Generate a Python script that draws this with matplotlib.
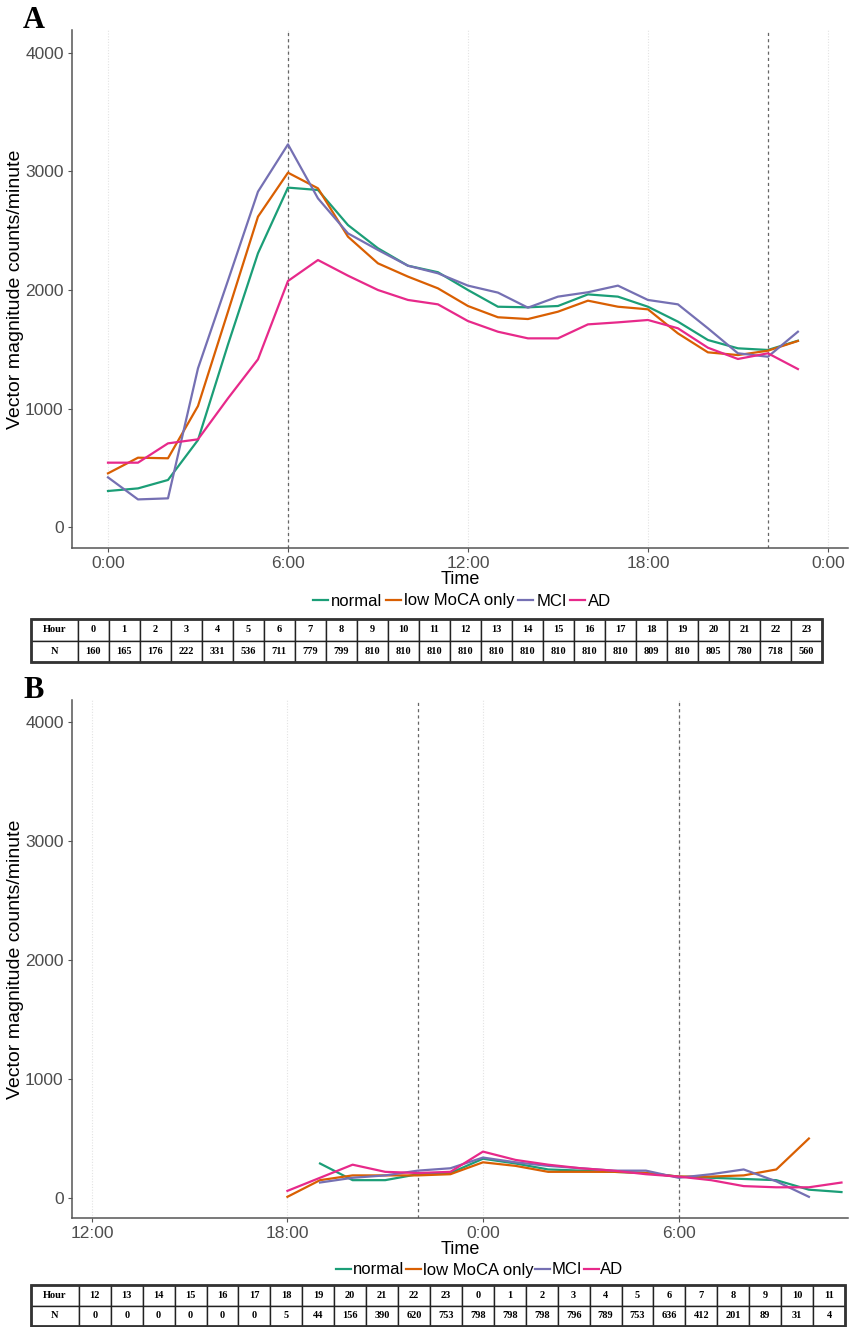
import matplotlib.pyplot as plt
import numpy as np

nan = np.nan

# ---- panel A: hours 0..23 ----
hours_a = list(range(24))
normal_a = [304, 326, 397, 734, 1540, 2310, 2864, 2844, 2548, 2352, 2205, 2150,
            2000, 1859, 1854, 1865, 1963, 1944, 1859, 1733, 1578, 1508, 1494, 1572]
lowmoca_a = [453, 585, 580, 1021, 1817, 2619, 2990, 2858, 2450, 2225, 2113, 2014,
             1865, 1770, 1755, 1817, 1910, 1859, 1837, 1634, 1474, 1451, 1488, 1570]
mci_a = [419, 233, 242, 1339, 2080, 2830, 3229, 2773, 2478, 2338, 2205, 2141,
         2037, 1978, 1851, 1944, 1981, 2037, 1916, 1879, 1677, 1466, 1437, 1648]
ad_a = [543, 543, 706, 740, 1086, 1415, 2076, 2253, 2121, 2000, 1916, 1879,
        1738, 1648, 1592, 1592, 1710, 1727, 1747, 1677, 1513, 1418, 1466, 1333]

# ---- panel B: hours 12..35 (12:00 to 11:00 next day) ----
hours_b = list(range(12, 36))
normal_b = [nan] * 7 + [290, 150, 150, 200, 210, 330, 290, 240, 230, 220, 210,
                        180, 170, 160, 150, 70, 50]
lowmoca_b = [nan] * 6 + [10, 150, 190, 190, 190, 200, 300, 270, 220, 220, 220,
                         210, 180, 180, 190, 240, 500, nan]
mci_b = [nan] * 7 + [130, 170, 190, 230, 250, 340, 300, 270, 250, 230, 230,
                     170, 200, 240, 140, 10, nan]
ad_b = [nan] * 6 + [60, 170, 280, 220, 210, 220, 390, 320, 280, 250, 230,
                    200, 180, 150, 100, 90, 90, 130]

groups = ["normal", "low MoCA only", "MCI", "AD"]
colors = ["#1B9E77", "#D95F02", "#7570B3", "#E7298A"]

# ---- tables ----
table_hour_a = [str(h) for h in range(24)]
table_n_a = [160, 165, 176, 222, 331, 536, 711, 779, 799, 810, 810, 810,
             810, 810, 810, 810, 810, 810, 809, 810, 805, 780, 718, 560]
table_hour_b = [str(h % 24) for h in range(12, 36)]
table_n_b = [0, 0, 0, 0, 0, 0, 5, 44, 156, 390, 620, 753,
             798, 798, 798, 796, 789, 753, 636, 412, 201, 89, 31, 4]

W, H = 858, 1327
SANS = ["Liberation Sans", "DejaVu Sans"]
SERIF = ["Liberation Serif", "DejaVu Serif"]

fig = plt.figure(figsize=(W / 100, H / 100), dpi=100)


def box(x0, y0, x1, y1):
    return [x0 / W, 1 - y1 / H, (x1 - x0) / W, (y1 - y0) / H]


def draw_panel(ax, x, series, xlim, ylim, ticks, ticklabels, dashes):
    for t in ticks:
        ax.axvline(t, color="#e3e3e3", linestyle=(0, (1, 1.5)), linewidth=0.8, zorder=0)
    for d in dashes:
        ax.axvline(d, color="#666666", linestyle=(0, (2.5, 2.5)), linewidth=0.9, zorder=1)
    for name, vals, c in zip(groups, series, colors):
        ax.plot(x, vals, color=c, linewidth=1.6, label=name, zorder=2)
    ax.set_xlim(*xlim)
    ax.set_ylim(*ylim)
    ax.set_yticks([0, 1000, 2000, 3000, 4000])
    ax.set_xticks(ticks)
    ax.set_xticklabels(ticklabels, family=SANS, fontsize=12.5, color="#4d4d4d")
    for lab in ax.get_yticklabels():
        lab.set_family(SANS)
        lab.set_fontsize(12.5)
        lab.set_color("#4d4d4d")
    for s in ["top", "right"]:
        ax.spines[s].set_visible(False)
    for s in ["left", "bottom"]:
        ax.spines[s].set_color("#555555")
        ax.spines[s].set_linewidth(1.1)
    ax.tick_params(axis="both", colors="#555555", length=3, width=0.8, pad=3)
    ax.tick_params(axis="x", labelcolor="#4d4d4d")
    ax.tick_params(axis="y", labelcolor="#4d4d4d")
    ax.set_xlabel("Time", family=SANS, fontsize=13, labelpad=0)
    ax.set_ylabel("Vector magnitude counts/minute", family=SANS, fontsize=14, labelpad=1)
    ax.set_facecolor("white")


def draw_table(rect, hours, ns):
    tax = fig.add_axes(rect)
    tax.axis("off")
    cells = [["Hour"] + list(hours), ["N"] + [str(n) for n in ns]]
    ncol = len(cells[0])
    widths = [1.5] + [1.0] * (ncol - 1)
    tot = sum(widths)
    tbl = tax.table(cellText=cells, colWidths=[w / tot for w in widths],
                    cellLoc="center", bbox=[0, 0, 1, 1])
    tbl.auto_set_font_size(False)
    for (r, c), cell in tbl.get_celld().items():
        cell.set_linewidth(1.0)
        cell.set_edgecolor("#222222")
        cell.get_text().set_fontsize(7.5)
        cell.get_text().set_fontweight("bold")
        cell.get_text().set_family(SERIF)
    tax.add_patch(plt.Rectangle((0, 0), 1, 1, transform=tax.transAxes,
                                fill=False, linewidth=2.0, edgecolor="#333333",
                                clip_on=False))


# Panel A
axA = fig.add_axes(box(72, 30, 848, 548))
draw_panel(axA, hours_a, [normal_a, lowmoca_a, mci_a, ad_a],
           (-1.2, 24.67), (-177, 4194), [0, 6, 12, 18, 24],
           ["0:00", "6:00", "12:00", "18:00", "0:00"], [6, 22])
fig.text(34 / W, 1 - 20 / H, "A", family=SERIF, fontweight="bold", fontsize=22,
         ha="center", va="center")
axA.legend(loc="center", bbox_to_anchor=(462 / W, 1 - 601 / H),
           bbox_transform=fig.transFigure, ncol=4, frameon=False,
           prop={"family": SANS, "size": 12}, handlelength=0.9,
           handletextpad=0.2, columnspacing=0.2, borderaxespad=0)
draw_table(box(31, 619, 822, 662), table_hour_a, table_n_a)

# Panel B
axB = fig.add_axes(box(72, 700, 848, 1218))
draw_panel(axB, hours_b, [normal_b, lowmoca_b, mci_b, ad_b],
           (11.39, 35.2), (-168, 4185), [12, 18, 24, 30],
           ["12:00", "18:00", "0:00", "6:00"], [22, 30])
fig.text(34 / W, 1 - 690 / H, "B", family=SERIF, fontweight="bold", fontsize=22,
         ha="center", va="center")
axB.legend(loc="center", bbox_to_anchor=(480 / W, 1 - 1270 / H),
           bbox_transform=fig.transFigure, ncol=4, frameon=False,
           prop={"family": SANS, "size": 12}, handlelength=0.9,
           handletextpad=0.1, columnspacing=0.1, borderaxespad=0)
draw_table(box(31, 1285, 845, 1326), table_hour_b, table_n_b)

fig.savefig("out.png", dpi=100, facecolor="white")
